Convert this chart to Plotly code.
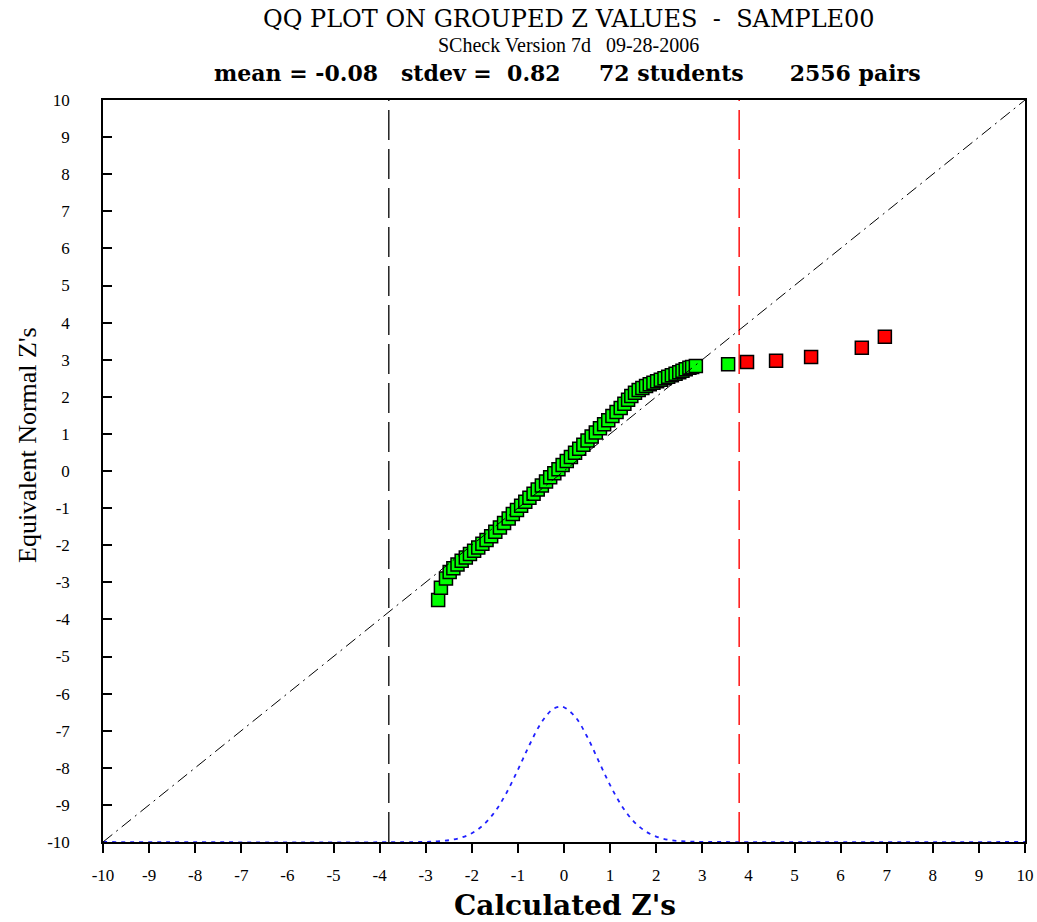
import plotly.graph_objects as go

# ---- data ----
green_x = [-2.73, -2.67, -2.56, -2.48, -2.40, -2.31, -2.22, -2.13, -2.04, -1.95,
           -1.86, -1.77, -1.68, -1.58, -1.49, -1.39, -1.30, -1.20, -1.11, -1.02,
           -0.93, -0.84, -0.75, -0.66, -0.57, -0.48, -0.39, -0.30, -0.21, -0.12,
           -0.03, 0.06, 0.15, 0.24, 0.33, 0.42, 0.51, 0.60, 0.69, 0.78,
           0.87, 0.96, 1.05, 1.14, 1.23, 1.31, 1.39, 1.46, 1.54, 1.62,
           1.70, 1.78, 1.86, 1.94, 2.02, 2.10, 2.18, 2.26, 2.34, 2.42,
           2.50, 2.57, 2.64, 2.72, 2.78, 2.86, 3.56]
green_y = [-3.48, -3.15, -2.90, -2.72, -2.62, -2.52, -2.42, -2.33, -2.24, -2.15,
           -2.06, -1.96, -1.86, -1.76, -1.64, -1.52, -1.40, -1.28, -1.16, -1.05,
           -0.94, -0.83, -0.72, -0.61, -0.50, -0.39, -0.28, -0.17, -0.06, 0.05,
           0.16, 0.27, 0.38, 0.49, 0.60, 0.71, 0.82, 0.93, 1.04, 1.15,
           1.26, 1.37, 1.48, 1.59, 1.70, 1.81, 1.92, 2.02, 2.11, 2.18,
           2.24, 2.29, 2.34, 2.38, 2.42, 2.46, 2.50, 2.54, 2.58, 2.62,
           2.66, 2.70, 2.74, 2.78, 2.80, 2.83, 2.88]
red_x = [3.97, 4.60, 5.36, 6.46, 6.96]
red_y = [2.94, 2.97, 3.07, 3.32, 3.62]

curve_x = [-10, -3.0, -2.75, -2.5, -2.25, -2.0, -1.75, -1.5, -1.25, -1.0, -0.75,
           -0.5, -0.25, -0.08, 0.0, 0.25, 0.5, 0.75, 1.0, 1.25, 1.5, 1.75,
           2.0, 2.25, 2.5, 2.75, 3.0, 10]
curve_y = [-10, -9.997, -9.982, -9.953, -9.890, -9.765, -9.541, -9.186, -8.681,
           -8.054, -7.386, -6.798, -6.428, -6.35, -6.367, -6.634, -7.157, -7.813,
           -8.467, -9.020, -9.430, -9.697, -9.854, -9.936, -9.974, -9.990,
           -9.997, -10]

diag_x = [-10, 10]
diag_y = [-10, 10]
lower_limit = -3.8
upper_limit = 3.8

ticks = list(range(-10, 11))
tick_text = [str(t) for t in ticks]

SERIF = "Liberation Serif, Times New Roman, serif"
WIDE = "DejaVu Serif, serif"

fig = go.Figure()
fig.add_trace(go.Scatter(x=diag_x, y=diag_y, mode="lines", yaxis="y2",
                         line=dict(color="black", width=1, dash="12px,5px,2px,5px"),
                         hoverinfo="skip"))
fig.add_trace(go.Scatter(x=[lower_limit, lower_limit], y=[-10, 10], mode="lines",
                         line=dict(color="black", width=1.3, dash="30px,9px"),
                         hoverinfo="skip"))
fig.add_trace(go.Scatter(x=[upper_limit, upper_limit], y=[-10, 10], mode="lines",
                         line=dict(color="#FF2020", width=1.6, dash="30px,9px"),
                         hoverinfo="skip"))
fig.add_trace(go.Scatter(x=curve_x, y=curve_y, mode="lines",
                         line=dict(color="#2020FF", width=1.8, dash="4px,5px", shape="spline"),
                         hoverinfo="skip"))
fig.add_trace(go.Scatter(x=green_x, y=green_y, mode="markers",
                         marker=dict(symbol="square", size=13, color="#00FF00",
                                     line=dict(color="black", width=1.5))))
fig.add_trace(go.Scatter(x=red_x, y=red_y, mode="markers",
                         marker=dict(symbol="square", size=13, color="#FF0000",
                                     line=dict(color="black", width=1.5))))

fig.update_layout(
    width=1037, height=922,
    margin=dict(l=103, r=12, t=100, b=80),
    paper_bgcolor="white", plot_bgcolor="white",
    showlegend=False,
    font=dict(family=SERIF, color="black", size=14),
    xaxis=dict(range=[-10, 10], tickvals=ticks, ticktext=tick_text,
               showgrid=False, zeroline=False, showline=True, linecolor="black",
               linewidth=1.5, mirror=True, ticks="outside", ticklen=9,
               tickwidth=1.5, tickcolor="black", ticklabelstandoff=8,
               automargin=False,
               tickfont=dict(family=SERIF, size=17)),
    yaxis=dict(range=[-10, 10], tickvals=ticks, ticktext=tick_text,
               showgrid=False, zeroline=False, showline=True, linecolor="black",
               linewidth=1.5, mirror=True, ticks="outside", ticklen=28,
               tickwidth=1, tickcolor="rgba(0,0,0,0)", automargin=False,
               tickfont=dict(family=SERIF, size=17)),
    yaxis2=dict(range=[-10, 10], tickvals=ticks, overlaying="y", side="left",
                showgrid=False, zeroline=False, showline=False,
                ticks="inside", ticklen=9, tickwidth=1.5, tickcolor="black",
                showticklabels=False, automargin=False),
    annotations=[
        dict(text="QQ PLOT ON GROUPED Z VALUES  -  SAMPLE00", x=569, y=19,
             xref="paper", yref="paper", showarrow=False,
             font=dict(family=WIDE, size=24)),
        dict(text="SCheck Version 7d   09-28-2006", x=568, y=45,
             xref="paper", yref="paper", showarrow=False,
             font=dict(family=SERIF, size=20)),
        dict(text="<b>mean = -0.08&nbsp;&nbsp;&nbsp;stdev =&nbsp; 0.82&nbsp;&nbsp;&nbsp;&nbsp; 72 students&nbsp;&nbsp;&nbsp;&nbsp;&nbsp; 2556 pairs</b>",
             x=567, y=73, xref="paper", yref="paper", showarrow=False,
             font=dict(family=WIDE, size=22)),
        dict(text="Equivalent Normal Z's", x=27, y=445, textangle=-90,
             xref="paper", yref="paper", showarrow=False,
             font=dict(family=SERIF, size=26)),
        dict(text="<b>Calculated Z's</b>", x=565, y=905,
             xref="paper", yref="paper", showarrow=False,
             font=dict(family=WIDE, size=28)),
    ],
)

# convert pixel annotation positions to paper coordinates
pl, pr, pt, pb = 103, 1025, 100, 842
for a in fig.layout.annotations:
    px, py = a.x, a.y
    a.x = (px - pl) / (pr - pl)
    a.y = (pb - py) / (pb - pt)
    a.xanchor = "center"
    a.yanchor = "middle"

fig.write_html("out.html", config={"displayModeBar": False},
               post_script="document.body.style.margin='0px';document.body.style.overflow='hidden';")
